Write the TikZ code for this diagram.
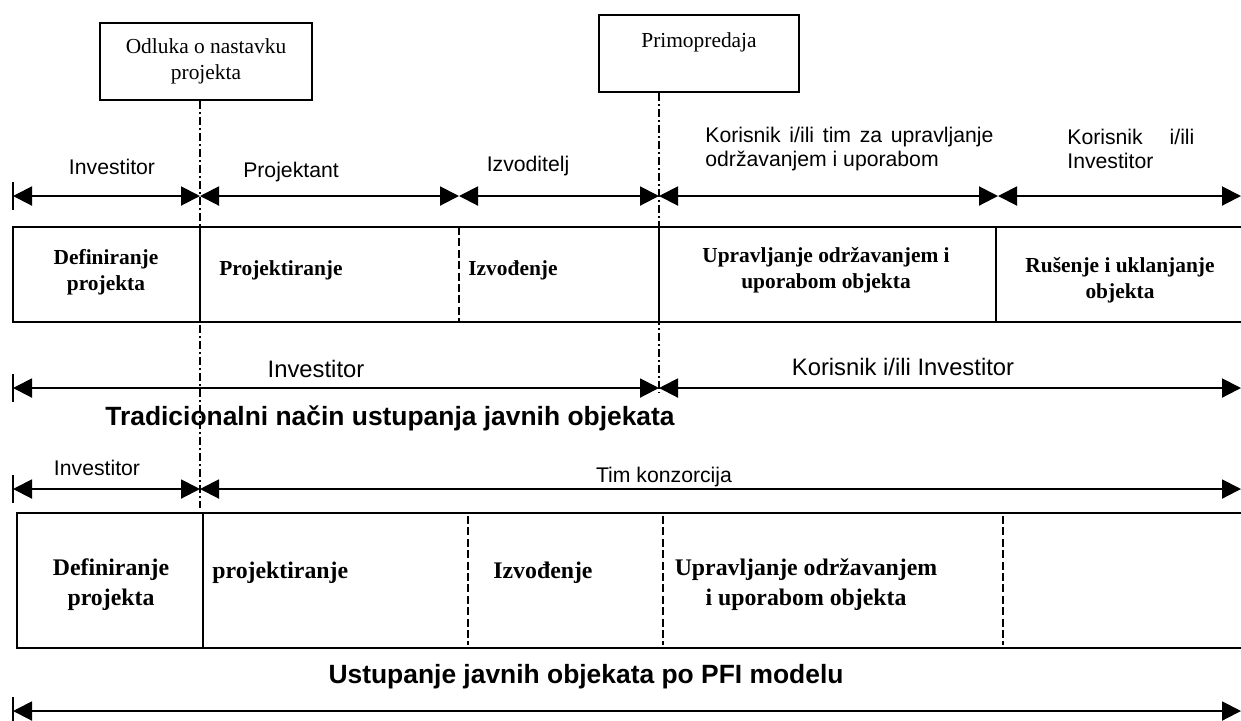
\documentclass[tikz,border=0pt]{standalone}
\usepackage{fontspec}
\setmainfont{Liberation Serif}
\setsansfont{Liberation Sans}
\usetikzlibrary{arrows.meta}

\tikzset{
  strelica/.style={line width=1pt, {Triangle[length=9.5pt,width=9.5pt]}-{Triangle[length=9.5pt,width=9.5pt]}},
  kvacica/.style={line width=1pt},
  okvir/.style={draw, line width=0.8pt, minimum width=106pt, minimum height=38.5pt, align=center, font=\fontsize{10.7}{13}\selectfont},
  faza/.style={font=\bfseries\fontsize{10.7}{13}\selectfont, align=center, inner sep=0pt},
  fazab/.style={font=\bfseries\fontsize{11.9}{15}\selectfont, align=center, inner sep=0pt},
  uloga/.style={font=\sffamily\fontsize{10.6}{12}\selectfont, inner sep=0pt, text height=0.72em, text depth=0pt},
  ulogab/.style={font=\sffamily\fontsize{11.9}{14}\selectfont, inner sep=0pt, text height=0.72em, text depth=0pt},
  naslov/.style={font=\sffamily\bfseries\fontsize{13.2}{16}\selectfont, inner sep=0pt, text height=0.72em, text depth=0pt},
  granica/.style={line width=0.7pt, dash pattern=on 4pt off 1.5pt on 1pt off 1.5pt},
  crtkano/.style={line width=0.6pt, dash pattern=on 4pt off 1.7pt},
  rub/.style={line width=1pt},
}

\begin{document}
\begin{tikzpicture}[x=0.5pt,y=-0.5pt]
\useasboundingbox (0,0) rectangle (1241,720);

\node[okvir] (odluka) at (206,61.5) {Odluka o nastavku\\projekta};
\node[okvir, minimum width=100pt] (primo) at (699,53.5) {};
\node[font=\fontsize{10.7}{13}\selectfont, anchor=north] (primotekst) at ([yshift=-5.5pt]primo.north) {Primopredaja};

\coordinate (m1) at (200,508);
\coordinate (m2) at (659,392);
\draw[granica] (odluka.south -| m1) -- (m1);
\draw[granica] (primo.south -| m2) -- (m2);

% gornji red strelica
\coordinate (a0) at (13,196);
\coordinate (a1) at (200,196);
\coordinate (a2) at (459,196);
\coordinate (a3) at (659,196);
\coordinate (a4) at (998,196);
\coordinate (a5) at (1241,196);
\draw[kvacica] ([yshift=7pt]a0) -- ([yshift=-7pt]a0);
\draw[strelica] (a0) -- (a1);
\draw[strelica] (a1) -- (a2);
\draw[strelica] (a2) -- (a3);
\draw[strelica] (a3) -- (a4);
\draw[strelica] (a4) -- (a5);

\node[uloga] (investitor1) at (112,167) {Investitor};
\node[uloga] (projektant) at (291,170) {Projektant};
\node[uloga] (izvoditelj) at (528,164) {Izvoditelj};
\node[uloga, text height=, text depth=, text width=144pt, align=justify, anchor=north west] (korisnik1) at (705,127)
  {Korisnik i/ili tim za upravljanje održavanjem i uporabom};
\node[uloga, text height=, text depth=, text width=63.5pt, align=left, anchor=north west] (korisnik2) at (1067,129)
  {Korisnik\hfill i/ili\\Investitor};

% tradicionalni nacin
\draw[rub] (1241,227) -- (13,227) -- (13,322) -- (1241,322);
\draw[rub] (200,227) -- (200,322);
\draw[crtkano] (459,227) -- (459,322);
\draw[rub] (659,227) -- (659,322);
\draw[rub] (996,227) -- (996,322);

\node[faza] (definiranje1) at (106,272.5) {Definiranje\\projekta};
\node[faza, anchor=west, text height=0.72em, text depth=0pt] (projektiranje1) at (219,268) {Projektiranje};
\node[faza, anchor=west, text height=0.72em, text depth=0pt] (izvodenje1) at (468,268) {Izvođenje};
\node[faza] (upravljanje1) at (826,270) {Upravljanje održavanjem i\\uporabom objekta};
\node[faza] (rusenje) at (1120,280) {Rušenje i uklanjanje\\objekta};

\coordinate (b0) at (13,388);
\coordinate (b1) at (659,388);
\coordinate (b2) at (1241,388);
\draw[kvacica] ([yshift=7pt]b0) -- ([yshift=-7pt]b0);
\draw[strelica] (b0) -- (b1);
\draw[strelica] (b1) -- (b2);
\node[ulogab] (investitor2) at (316,370) {Investitor};
\node[ulogab] (korisnik3) at (903,368) {Korisnik i/ili Investitor};

\node[naslov] (tradicionalni) at (390,418) {Tradicionalni način ustupanja javnih objekata};

% PFI model
\coordinate (c0) at (13,489);
\coordinate (c1) at (200,489);
\coordinate (c2) at (1241,489);
\draw[kvacica] ([yshift=7pt]c0) -- ([yshift=-7pt]c0);
\draw[strelica] (c0) -- (c1);
\draw[strelica] (c1) -- (c2);
\node[uloga] (investitor3) at (97,468) {Investitor};
\node[uloga] (konzorcij) at (664,475) {Tim konzorcija};

\draw[rub] (1241,513) -- (17,513) -- (17,648) -- (1241,648);
\draw[rub] (203,513) -- (203,648);
\draw[crtkano] (468,516) -- (468,645);
\draw[crtkano] (663,516) -- (663,645);
\draw[crtkano] (1003,516) -- (1003,645);

\node[fazab] (definiranje2) at (111,584.5) {Definiranje\\projekta};
\node[fazab, anchor=west, text height=0.72em, text depth=0pt] (projektiranje2) at (212,571) {projektiranje};
\node[fazab, anchor=west, text height=0.72em, text depth=0pt] (izvodenje2) at (493,571) {Izvođenje};
\node[fazab] (upravljanje2) at (806,585) {Upravljanje održavanjem\\i uporabom objekta};

\node[naslov] (pfi) at (586,676) {Ustupanje javnih objekata po PFI modelu};

\coordinate (d0) at (13,711);
\coordinate (d1) at (1241,711);
\draw[kvacica] ([yshift=7pt]d0) -- ([yshift=-7pt]d0);
\draw[strelica] (d0) -- (d1);
\end{tikzpicture}
\end{document}
